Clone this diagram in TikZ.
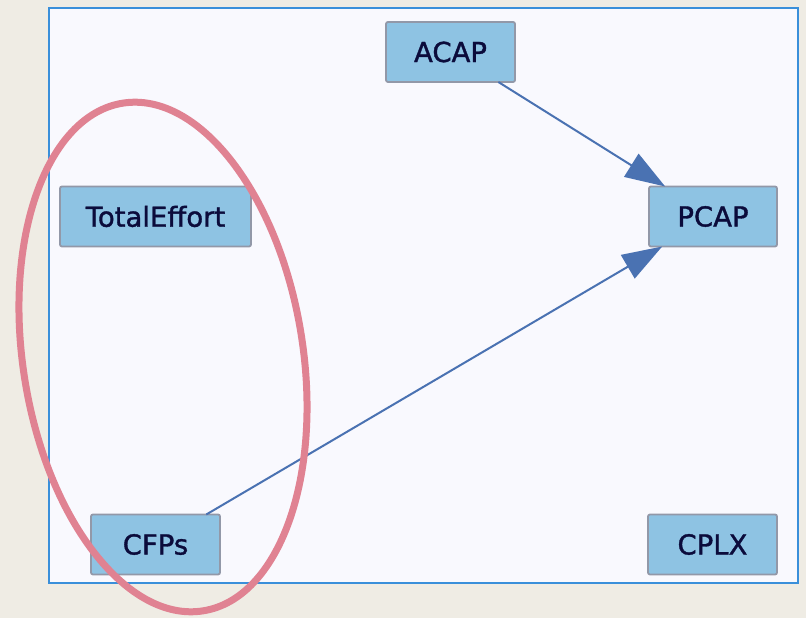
\documentclass[tikz,border=0pt]{standalone}
\usepackage{fontspec}
\setmainfont{DejaVu Sans}
\newfontfamily\nodefont[FakeBold=1.3]{DejaVu Sans}
\usetikzlibrary{arrows.meta}
\definecolor{bgc}{HTML}{EFECE4}
\definecolor{panelc}{HTML}{F9F9FE}
\definecolor{panelb}{HTML}{3A8FDA}
\definecolor{boxc}{HTML}{8EC3E3}
\definecolor{boxb}{HTML}{9298A8}
\definecolor{txtc}{HTML}{0B0B3B}
\definecolor{arrc}{HTML}{4A72B2}
\definecolor{ellc}{HTML}{E08292}
\tikzset{
  var/.style={draw=boxb, line width=1.8pt, fill=boxc, rounded corners=2pt,
    inner sep=0pt, outer sep=0pt, minimum height=60pt, text=txtc,
    font=\nodefont\fontsize{27.5}{32}\selectfont},
  arr/.style={draw=arrc, line width=2pt, -{Triangle[length=40pt,width=27pt]}}
}
\begin{document}
\begin{tikzpicture}[x=1pt,y=1pt]
\fill[bgc] (0,0) rectangle (806,618);
\useasboundingbox (0,0) rectangle (806,618);
\filldraw[fill=panelc, draw=panelb, line width=2pt] (49,35) rectangle (798,609.5);
\node[var, minimum width=129pt] (ACAP) at (450.5,566) {ACAP};
\node[var, minimum width=191pt] (TE) at (155.5,401.5) {TotalEffort};
\node[var, minimum width=128pt] (PCAP) at (713,401.5) {PCAP};
\node[var, minimum width=129pt] (CFPs) at (155.5,73.5) {CFPs};
\node[var, minimum width=129pt] (CPLX) at (712.5,73.5) {CPLX};
\draw[arr] (ACAP) -- (PCAP);
\draw[arr] (CFPs) -- (PCAP);
\draw[ellc, line width=7pt] (163,261) ellipse[x radius=140, y radius=257, rotate=9];
\end{tikzpicture}
\end{document}
